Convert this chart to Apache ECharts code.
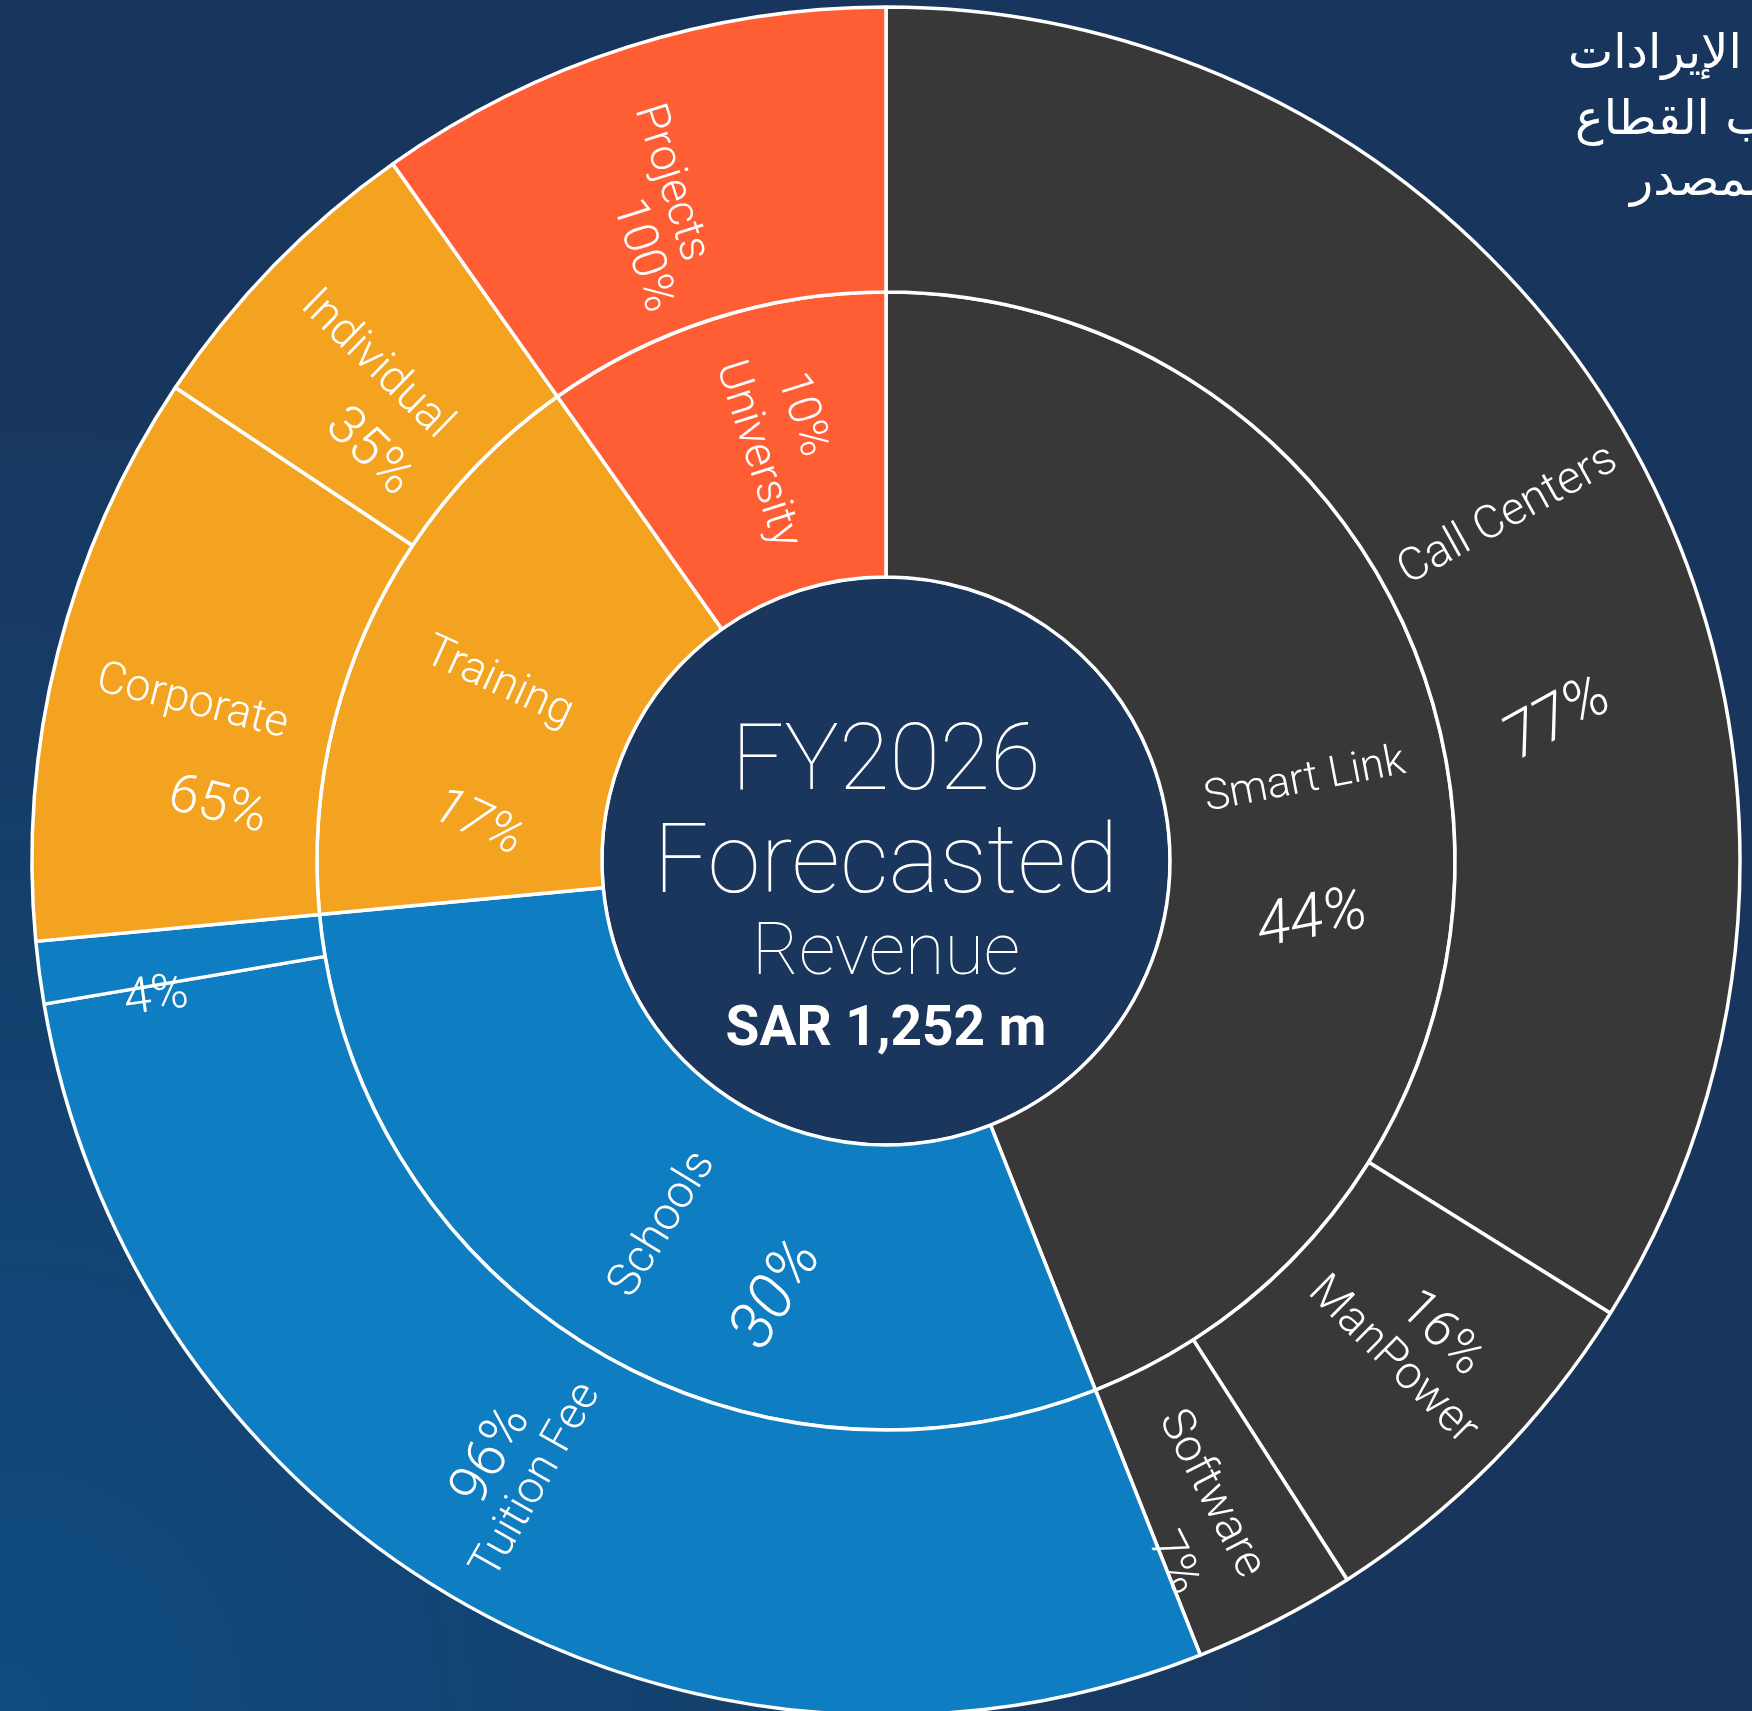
<!DOCTYPE html>
<html>
<head>
<meta charset="utf-8">
<script src="https://cdn.jsdelivr.net/npm/echarts@6/dist/echarts.min.js"></script>
<style>
html,body{margin:0;padding:0;background:#18365D;}
#c{width:1752px;height:1711px;}
</style>
</head>
<body>
<div id="c"></div>
<script>
// ---------------- DATA ----------------
const segments = ['Smart Link', 'Schools', 'Training', 'University'];
const segmentShare = [44.0, 29.5, 16.7, 9.8];          // share of total revenue
const segmentLabelPct = [44, 30, 17, 10];              // printed percentages
const sources = [
  ['Call Centers', 'ManPower', 'Software'],
  ['Tuition Fee', ''],
  ['Corporate', 'Individual'],
  ['Projects']
];
const sourcePct = [
  [77, 16, 7],
  [96, 4],
  [65, 35],
  [100]
];
const centerLines = ['FY2026', 'Forecasted', 'Revenue', 'SAR 1,252 m'];
const titleLines = ['توزيع الإيرادات', 'حسب القطاع', 'والمصدر'];

// ---------------- STYLE ----------------
const colors = ['#383838', '#0E7DC2', '#F4A321', '#FF5E34'];
const FONT = 'Roboto';
const CX = 886, CY = 861, R0 = 284, R1 = 569, R2 = 854;

// per-label layout (line order, gap between line centres, shift of % along the text)
const labelLayout = {
  'Smart Link':   {order: 'np', gap: 139, shift: -19, nSize: 43, pSize: 62, italic: true},
  'Schools':      {order: 'np', gap: 135, shift: 0,   nSize: 46, pSize: 64, italic: true},
  'Training':     {order: 'np', gap: 137, shift: 40,  nSize: 45, pSize: 52, italic: true},
  'University':   {order: 'pn', gap: 55,  shift: -24, nSize: 45, pSize: 46},
  'Call Centers': {order: 'np', gap: 203, shift: -55, nSize: 46, pSize: 62, italic: true},
  'ManPower':     {order: 'pn', gap: 53,  shift: 16,  nSize: 46, pSize: 52},
  'Software':     {order: 'np', gap: 65,  shift: 45,  nSize: 46, pSize: 48},
  'Tuition Fee':  {order: 'pn', gap: 51,  shift: 0,   nSize: 45, pSize: 56},
  '_other':       {order: 'p',  gap: 80,  shift: -30, nSize: 45, pSize: 50},
  'Corporate':    {order: 'np', gap: 95,  top: 127, shift: 50, nSize: 45, pSize: 54},
  'Individual':   {order: 'np', gap: 68,  shift: 56,  nSize: 46, pSize: 54},
  'Projects':     {order: 'np', gap: 49,  shift: 61,  nSize: 45, pSize: 48}
};

function makeLabel(name, pct, L) {
  const G = L.gap;
  const pad = L.shift >= 0 ? [0, 0, 0, 2 * L.shift] : [0, -2 * L.shift, 0, 0];
  const rich = {
    g: {fontSize: 10, lineHeight: L.top || G},
    n: {fontFamily: FONT, fontWeight: 300, fontSize: L.nSize, lineHeight: G, color: '#fff'},
    p: {fontFamily: FONT, fontWeight: 300, fontSize: L.pSize, lineHeight: G, color: '#fff',
        fontStyle: L.italic ? 'italic' : 'normal', padding: pad}
  };
  const P = '{p|' + pct + '%}', N = '{n|' + name + '}', B = '{g| }';
  let lines;
  if (L.order === 'p') lines = [B, P];
  else if (L.order === 'pn') lines = [P, N, B];
  else lines = [B, N, P];
  return {show: true, rotate: 'radial', formatter: lines.join('\n'), rich: rich};
}

const sunData = segments.map(function (seg, i) {
  return {
    name: seg,
    itemStyle: {color: colors[i]},
    label: makeLabel(seg, segmentLabelPct[i], labelLayout[seg]),
    children: sources[i].map(function (src, j) {
      return {
        name: src,
        value: segmentShare[i] * sourcePct[i][j] / 100,
        itemStyle: {color: colors[i]},
        label: makeLabel(src, sourcePct[i][j], labelLayout[src || '_other'])
      };
    })
  };
});

const chart = echarts.init(document.getElementById('c'), null, {renderer: 'canvas', width: 1752, height: 1711});

const centerStyles = [
  {y: 766, font: '100 92px ' + FONT},
  {y: 868, font: '100 96px ' + FONT},
  {y: 956, font: '100 72px ' + FONT},
  {y: 1031, font: 'bold 55px ' + FONT}
];
const titleStyles = [
  {x: 1568, y: 56},
  {x: 1575, y: 122},
  {x: 1630, y: 183}
];

const graphics = centerLines.map(function (t, i) {
  return {
    type: 'text', z: 100, x: CX, y: centerStyles[i].y,
    style: {text: t, fill: '#fff', font: centerStyles[i].font,
      align: 'center', verticalAlign: 'middle', textAlign: 'center', textVerticalAlign: 'middle'}
  };
}).concat(titleLines.map(function (t, i) {
  return {
    type: 'text', z: 100, x: titleStyles[i].x, y: titleStyles[i].y,
    style: {text: t, fill: '#fff', font: '48px "DejaVu Sans"',
      align: 'left', verticalAlign: 'middle', textAlign: 'left', textVerticalAlign: 'middle'}
  };
}));

chart.setOption({
  animation: false,
  backgroundColor: new echarts.graphic.RadialGradient(0, 1, 0.8, [
    {offset: 0, color: '#0F4C80'},
    {offset: 1, color: '#18365D'}
  ]),
  graphic: graphics,
  series: [
    {
      type: 'pie',
      silent: true,
      center: [CX, CY],
      radius: [0, R0],
      z: 1,
      label: {show: false},
      labelLine: {show: false},
      itemStyle: {color: '#1B365D', borderColor: '#fff', borderWidth: 3},
      data: [{value: 1, name: 'centre'}]
    },
    {
      type: 'sunburst',
      center: [CX, CY],
      radius: [R0, R2],
      startAngle: 90,
      nodeClick: false,
      z: 2,
      itemStyle: {borderColor: '#fff', borderWidth: 3.5},
      label: {color: '#fff', rotate: 'radial', fontFamily: FONT},
      emphasis: {focus: 'none'},
      levels: [
        {},
        {r0: R0, r: R1},
        {r0: R1, r: R2}
      ],
      data: sunData
    }
  ]
});
</script>
</body>
</html>
